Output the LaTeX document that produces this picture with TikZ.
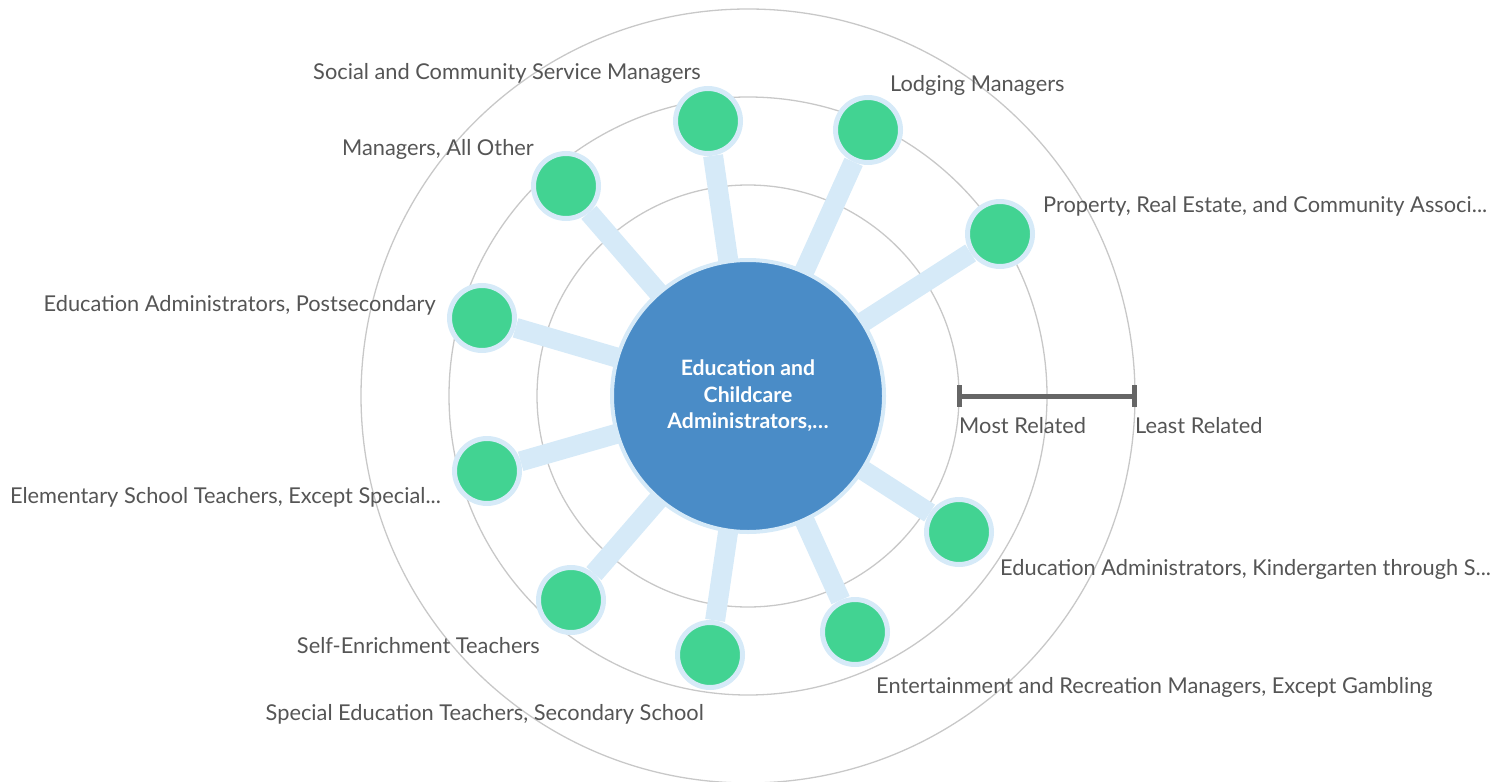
\documentclass[tikz,border=0pt]{standalone}
\usepackage{fontspec}
\setmainfont{Lato}
\usepackage{tikz}
\usetikzlibrary{backgrounds}
\definecolor{job green}{HTML}{42D392}
\definecolor{hub blue}{HTML}{4A8CC7}
\definecolor{link blue}{HTML}{D6EAF8}
\definecolor{ring grey}{HTML}{C8C8C8}
\definecolor{label grey}{HTML}{555555}
\definecolor{bar grey}{HTML}{666666}
\tikzset{job/.style={circle, fill=job green, draw=link blue, line width=5pt, minimum size=65pt, inner sep=0pt},
    hub/.style={circle, fill=hub blue, draw=link blue, line width=4pt, minimum size=272pt, inner sep=0pt,
        text=white, align=center, font=\bfseries\fontsize{21.2}{26.5}\selectfont},
    link/.style={draw=link blue, line width=20pt},
    ring/.style={draw=ring grey, line width=1.3pt},
    joblabel/.style={text=label grey, inner sep=0pt, font=\fontsize{21.8}{26}\selectfont},
    scalebar/.style={draw=bar grey, line width=5pt}}

\begin{document}
\begin{tikzpicture}[x=1pt, y=-1pt]
    \useasboundingbox (0,0) rectangle (1503,781);
    % Definition of the hub and the related jobs
    \node[hub] (hub) at (748,396) {Education and\\Childcare\\Administrators,…};
    \node[job] (social)   at (708,121) {};
    \node[job] (lodging)  at (868,130) {};
    \node[job] (property) at (1000,234) {};
    \node[job] (kinder)   at (959,532) {};
    \node[job] (entert)   at (855,632) {};
    \node[job] (specsec)  at (710,655) {};
    \node[job] (selfenr)  at (571,600) {};
    \node[job] (element)  at (487,471) {};
    \node[job] (postsec)  at (482,318) {};
    \node[job] (mgrother) at (566,186) {};
    %
    \begin{scope}[on background layer]
        \foreach \r in {211,299,387}
            \draw[ring] (hub.center) circle[radius=\r pt];
        \foreach \j in {social,lodging,property,kinder,entert,specsec,selfenr,element,postsec,mgrother}
            \draw[link] (hub.center) -- (\j);
    \end{scope}
    % Labels
    \node[joblabel, anchor=base east] (l-social)   at (701,80)  {Social and Community Service Managers};
    \node[joblabel, anchor=base east] (l-mgrother) at (534,155) {Managers, All Other};
    \node[joblabel, anchor=base east] (l-postsec)  at (436,311) {Education Administrators, Postsecondary};
    \node[joblabel, anchor=base east] (l-element)  at (441,503) {Elementary School Teachers, Except Special...};
    \node[joblabel, anchor=base east] (l-selfenr)  at (540,653) {Self-Enrichment Teachers};
    \node[joblabel, anchor=base east] (l-specsec)  at (704,720) {Special Education Teachers, Secondary School};
    \node[joblabel, anchor=base west] (l-lodging)  at (890,92)  {Lodging Managers};
    \node[joblabel, anchor=base west] (l-property) at (1043,212) {Property, Real Estate, and Community Associ...};
    \node[joblabel, anchor=base west] (l-kinder)   at (1000,575) {Education Administrators, Kindergarten through S...};
    \node[joblabel, anchor=base west] (l-entert)   at (876,693) {Entertainment and Recreation Managers, Except Gambling};
    % Scale
    \coordinate (most) at (959,396);
    \coordinate (least) at (1134,396);
    \draw[scalebar] (most) -- (least);
    \draw[scalebar] ([yshift=11pt]most) -- ([yshift=-11pt]most);
    \draw[scalebar] ([yshift=11pt]least) -- ([yshift=-11pt]least);
    \node[joblabel, anchor=base west] (l-most)  at (959,433)  {Most Related};
    \node[joblabel, anchor=base west] (l-least) at (1135,433) {Least Related};
\end{tikzpicture}
\end{document}
